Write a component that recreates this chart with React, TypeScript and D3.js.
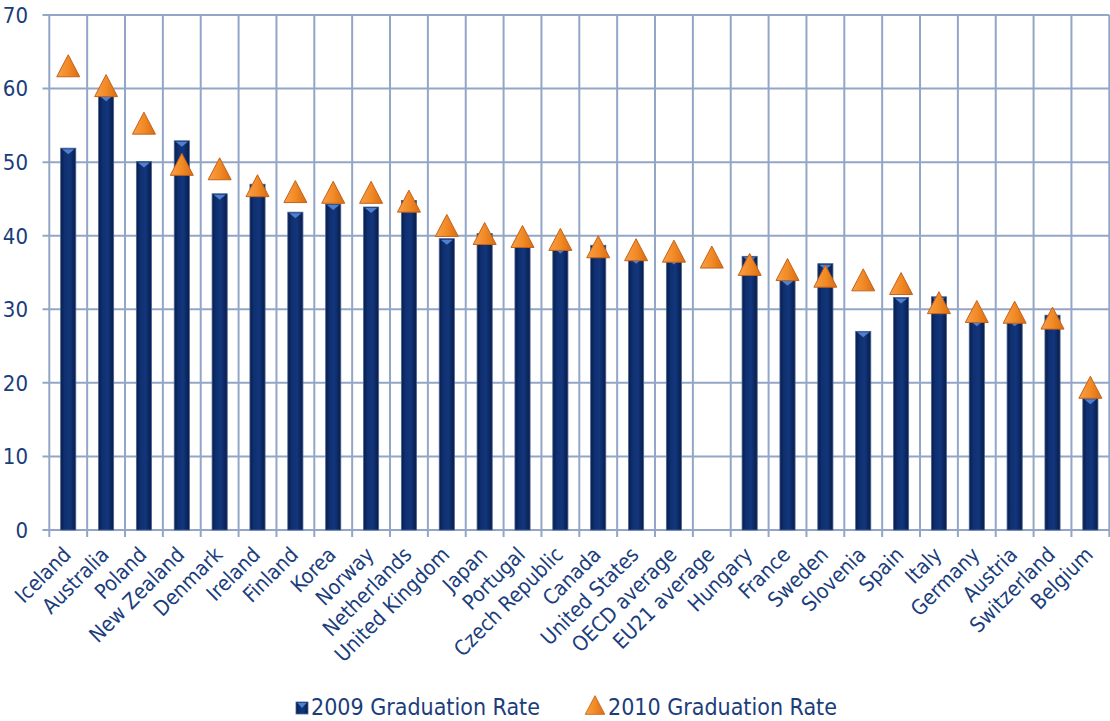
import React from "react";
import * as d3 from "d3";

const categories = [
  "Iceland", "Australia", "Poland", "New Zealand", "Denmark", "Ireland", "Finland",
  "Korea", "Norway", "Netherlands", "United Kingdom", "Japan", "Portugal",
  "Czech Republic", "Canada", "United States", "OECD average", "EU21 average",
  "Hungary", "France", "Sweden", "Slovenia", "Spain", "Italy", "Germany",
  "Austria", "Switzerland", "Belgium",
];

const rate2009: (number | null)[] = [
  51.9, 59.1, 50.1, 52.9, 45.7, 47.0, 43.2, 44.3, 43.9, 44.8, 39.6, 40.3, 39.2,
  38.4, 38.7, 37.0, 36.9, null, 37.2, 34.0, 36.2, 27.0, 31.6, 31.7, 28.5, 28.5,
  29.2, 17.9,
];

const rate2010: number[] = [
  63.1, 60.4, 55.3, 49.7, 49.1, 46.8, 46.0, 45.9, 45.9, 44.7, 41.4, 40.3, 39.9,
  39.5, 38.5, 38.1, 37.9, 37.1, 36.1, 35.4, 34.5, 34.0, 33.5, 30.9, 29.7, 29.6,
  28.8, 19.4,
];

const yTicks = [0, 10, 20, 30, 40, 50, 60, 70];
const seriesNames = ["2009 Graduation Rate", "2010 Graduation Rate"];

const W = 1110;
const H = 721;
const FONT = "'DejaVu Sans Condensed', 'DejaVu Sans', sans-serif";
const TEXT = "#1a3d7c";
const GRID = "#93a6c7";

export default function App() {
  const x = d3.scaleBand<string>().domain(categories).range([49.3, 1109.3]).padding(0);
  const y = d3.scaleLinear().domain([0, 70]).range([530, 15]);
  const bw = x.bandwidth();
  const barW = bw * 0.4;
  const triPath = "M0,-11 L11.5,11 L-11.5,11 Z";

  const gridX = categories.map((c) => x(c)!).concat([x.range()[1]]);

  return (
    <svg
      width={W}
      height={H}
      style={{ position: "absolute", left: 0, top: 0, display: "block", background: "#fff" }}
      fontFamily={FONT}
      fontStretch="condensed"
    >
      <defs>
        <linearGradient id="barGrad" x1="0" x2="1" y1="0" y2="0">
          <stop offset="0" stopColor="#081c48" />
          <stop offset="0.25" stopColor="#0f2f70" />
          <stop offset="0.6" stopColor="#12367c" />
          <stop offset="1" stopColor="#081c48" />
        </linearGradient>
        <linearGradient id="triGrad" x1="0" x2="1" y1="0" y2="0">
          <stop offset="0" stopColor="#f8a048" />
          <stop offset="0.5" stopColor="#f28a26" />
          <stop offset="1" stopColor="#d96d12" />
        </linearGradient>
      </defs>

      {/* horizontal gridlines */}
      {yTicks.map((t) => (
        <line key={"h" + t} x1={42.5} x2={1109.3} y1={y(t)} y2={y(t)} stroke={GRID} strokeWidth={2} />
      ))}
      {/* vertical gridlines + ticks */}
      {gridX.map((gx, i) => (
        <line key={"v" + i} x1={gx} x2={gx} y1={y(70)} y2={537} stroke={GRID} strokeWidth={2} />
      ))}

      {/* y tick labels */}
      {yTicks.map((t) => (
        <text key={"yl" + t} x={28} y={y(t)} dy="0.36em" textAnchor="end" fontSize={22} fill={TEXT}>
          {t}
        </text>
      ))}

      {/* bars 2009 */}
      {categories.map((c, i) => {
        const v = rate2009[i];
        if (v == null) return null;
        const cx = x(c)! + bw / 2;
        const top = y(v);
        const bx = cx - barW / 2;
        return (
          <g key={"b" + c}>
            <rect x={bx} y={top} width={barW} height={y(0) - top} fill="url(#barGrad)" stroke="#4a6598" strokeWidth={0.8} />
            <path d={`M${bx + 1.5},${top + 1} L${bx + barW - 1.5},${top + 1} L${cx},${top + 6} Z`} fill="#4f7fcf" />
          </g>
        );
      })}

      {/* triangles 2010 */}
      {categories.map((c, i) => {
        const cx = x(c)! + bw / 2;
        return (
          <path
            key={"t" + c}
            d={triPath}
            transform={`translate(${cx},${y(rate2010[i])})`}
            fill="url(#triGrad)"
            stroke="#c4621a"
            strokeWidth={1}
            strokeLinejoin="round"
          />
        );
      })}

      {/* x labels */}
      {categories.map((c) => {
        const cx = x(c)! + bw / 2;
        return (
          <text
            key={"xl" + c}
            transform={`translate(${cx + 4},${556}) rotate(-45)`}
            textAnchor="end"
            fontSize={21}
            fill={TEXT}
          >
            {c}
          </text>
        );
      })}

      {/* legend */}
      <g>
        <rect x={296} y={702} width={12} height={12} fill="url(#barGrad)" stroke="#4a6598" strokeWidth={0.8} />
        <path d="M297.5,703 L306.5,703 L302,708 Z" fill="#4f7fcf" />
        <text x={311} y={715} fontSize={23} fill={TEXT}>{seriesNames[0]}</text>
        <path d={triPath} transform="translate(595,705) scale(0.85)" fill="url(#triGrad)" stroke="#c4621a" strokeWidth={1} />
        <text x={608} y={715} fontSize={23} fill={TEXT}>{seriesNames[1]}</text>
      </g>
    </svg>
  );
}
